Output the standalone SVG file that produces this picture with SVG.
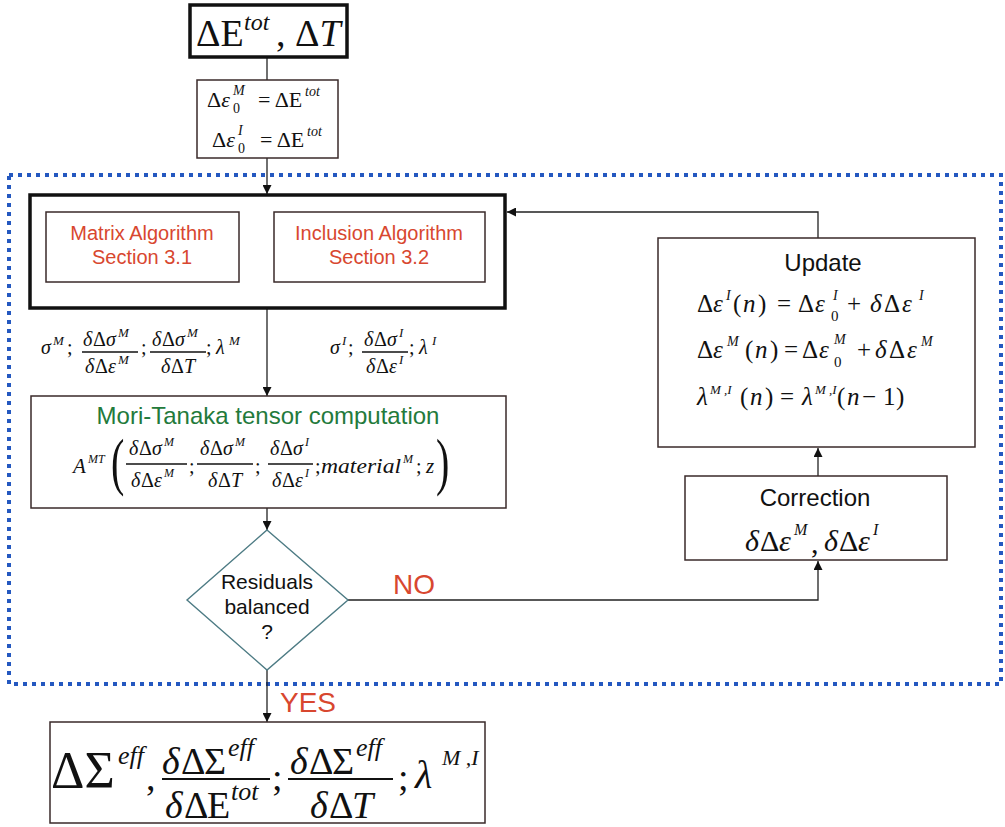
<svg xmlns="http://www.w3.org/2000/svg" width="1005" height="827" viewBox="0 0 1005 827">
<style>
.m{font-family:"Liberation Serif","Times New Roman",serif;fill:#111}
.i{font-style:italic}
.s{font-family:"Liberation Sans",Arial,sans-serif}
.red{fill:#d8472f}
.box{fill:#fff;stroke:#3a2a2a;stroke-width:1.5}
.thick{fill:#fff;stroke:#111;stroke-width:3.5}
.fl{stroke:#111;stroke-width:1.3}
.c{fill:none;stroke:#222;stroke-width:1.3}
</style>
<defs>
<marker id="ah" markerUnits="userSpaceOnUse" markerWidth="9" markerHeight="9" refX="9" refY="4.5" orient="auto">
<path d="M0,0 L9,4.5 L0,9 z" fill="#111"/>
</marker>
</defs>
<rect width="1005" height="827" fill="#fff"/>

<!-- dotted loop region -->
<rect x="9" y="175" width="992" height="509" fill="none" stroke="#2458c0" stroke-width="4" stroke-dasharray="4 5"/>

<g id="connectors">
<line class="c" x1="267" y1="57" x2="267" y2="80"/>
<line class="c" x1="267" y1="158" x2="267" y2="194" marker-end="url(#ah)"/>
<line class="c" x1="267" y1="308" x2="267" y2="396" marker-end="url(#ah)"/>
<line class="c" x1="267" y1="508" x2="267" y2="530" marker-end="url(#ah)"/>
<line class="c" x1="267" y1="670" x2="267" y2="722" marker-end="url(#ah)"/>
<polyline class="c" points="348,600 818,600 818,561" stroke="#6e3a2c" marker-end="url(#ah)"/>
<line class="c" x1="818" y1="476" x2="818" y2="448" marker-end="url(#ah)"/>
<polyline class="c" points="818,238 818,212 507,212" marker-end="url(#ah)"/>
<text class="s red" x="393" y="594" font-size="28">NO</text>
<text class="s red" x="280" y="712" font-size="28">YES</text>
</g>

<g id="input">
<rect x="190" y="5" width="157" height="52" fill="#fff" stroke="#111" stroke-width="3.5"/>
<text class="m" font-size="38" y="46"><tspan x="196">ΔE</tspan><tspan x="244" y="30" font-size="24" font-style="italic">tot</tspan><tspan x="276" y="46">, Δ</tspan><tspan font-style="italic">T</tspan></text>
</g>

<g id="init">
<rect class="box" x="197" y="80" width="141" height="78"/>
<text class="m" font-size="22" y="107"><tspan x="207">Δ</tspan><tspan font-style="italic">ε</tspan></text>
<text class="m i" font-size="14" x="233" y="95">M</text>
<text class="m" font-size="14" x="233" y="113">0</text>
<text class="m" font-size="22" x="258" y="107">= ΔE</text>
<text class="m i" font-size="14" x="305" y="96">tot</text>
<text class="m" font-size="22" y="147"><tspan x="212">Δ</tspan><tspan font-style="italic">ε</tspan></text>
<text class="m i" font-size="14" x="238" y="135">I</text>
<text class="m" font-size="14" x="238" y="153">0</text>
<text class="m" font-size="22" x="260" y="147">= ΔE</text>
<text class="m i" font-size="14" x="307" y="136">tot</text>
</g>

<g id="algorithms">
<rect class="thick" x="30" y="195" width="475" height="113"/>
<g id="matrix">
<rect class="box" x="46" y="212" width="193" height="70"/>
<text class="s red" font-size="20" text-anchor="middle"><tspan x="142" y="240">Matrix Algorithm</tspan><tspan x="142" y="264">Section 3.1</tspan></text>
</g>
<g id="inclusion">
<rect class="box" x="274" y="212" width="211" height="70"/>
<text class="s red" font-size="20" text-anchor="middle"><tspan x="379" y="240">Inclusion Algorithm</tspan><tspan x="379" y="264">Section 3.2</tspan></text>
</g>
</g>

<g id="matrix-outputs">
<text class="m i" font-size="20" x="41" y="354">σ</text>
<text class="m i" font-size="13" x="53" y="345">M</text>
<text class="m" font-size="20" x="67" y="354">;</text>
<text class="m" font-size="20" y="346"><tspan x="83" font-style="italic">δ</tspan><tspan x="93">Δ</tspan><tspan x="106" font-style="italic">σ</tspan></text>
<text class="m i" font-size="13" x="118" y="337">M</text>
<line class="fl" x1="82" y1="352" x2="138" y2="352"/>
<text class="m" font-size="20" y="373"><tspan x="85" font-style="italic">δ</tspan><tspan x="95">Δ</tspan><tspan x="108" font-style="italic">ε</tspan></text>
<text class="m i" font-size="13" x="118" y="364">M</text>
<text class="m" font-size="20" x="141" y="354">;</text>
<text class="m" font-size="20" y="346"><tspan x="152" font-style="italic">δ</tspan><tspan x="162">Δ</tspan><tspan x="175" font-style="italic">σ</tspan></text>
<text class="m i" font-size="13" x="187" y="337">M</text>
<line class="fl" x1="150" y1="352" x2="206" y2="352"/>
<text class="m" font-size="20" y="373"><tspan x="161" font-style="italic">δ</tspan><tspan x="171">Δ</tspan><tspan x="184" font-style="italic">T</tspan></text>
<text class="m" font-size="20" x="206" y="354">;</text>
<text class="m i" font-size="20" x="216" y="354">λ</text>
<text class="m i" font-size="13" x="229" y="345">M</text>
</g>

<g id="inclusion-outputs">
<text class="m i" font-size="20" x="330" y="354">σ</text>
<text class="m i" font-size="13" x="342" y="345">I</text>
<text class="m" font-size="20" x="348" y="354">;</text>
<text class="m" font-size="20" y="346"><tspan x="364" font-style="italic">δ</tspan><tspan x="374">Δ</tspan><tspan x="387" font-style="italic">σ</tspan></text>
<text class="m i" font-size="13" x="399" y="337">I</text>
<line class="fl" x1="362" y1="352" x2="408" y2="352"/>
<text class="m" font-size="20" y="373"><tspan x="366" font-style="italic">δ</tspan><tspan x="376">Δ</tspan><tspan x="389" font-style="italic">ε</tspan></text>
<text class="m i" font-size="13" x="399" y="364">I</text>
<text class="m" font-size="20" x="409" y="354">;</text>
<text class="m i" font-size="20" x="419" y="354">λ</text>
<text class="m i" font-size="13" x="432" y="345">I</text>
</g>

<g id="mori-tanaka">
<rect class="box" x="31" y="396" width="475" height="112"/>
<text class="s" font-size="24" x="268" y="424" text-anchor="middle" fill="#237a3b">Mori-Tanaka tensor computation</text>
<text class="m i" font-size="21" x="73" y="473">A</text>
<text class="m i" font-size="12" x="88" y="463">MT</text>
<text class="m" font-size="40" transform="translate(111,483) scale(1,1.6)">(</text>
<text class="m" font-size="20" y="455"><tspan x="129" font-style="italic">δ</tspan><tspan x="139">Δ</tspan><tspan x="152" font-style="italic">σ</tspan></text>
<text class="m i" font-size="12" x="164" y="446">M</text>
<line class="fl" x1="126" y1="464" x2="187" y2="464"/>
<text class="m" font-size="20" y="487"><tspan x="131" font-style="italic">δ</tspan><tspan x="141">Δ</tspan><tspan x="154" font-style="italic">ε</tspan></text>
<text class="m i" font-size="12" x="164" y="477">M</text>
<text class="m" font-size="20" x="189" y="473">;</text>
<text class="m" font-size="20" y="455"><tspan x="200" font-style="italic">δ</tspan><tspan x="210">Δ</tspan><tspan x="223" font-style="italic">σ</tspan></text>
<text class="m i" font-size="12" x="235" y="446">M</text>
<line class="fl" x1="197" y1="464" x2="253" y2="464"/>
<text class="m" font-size="20" y="487"><tspan x="208" font-style="italic">δ</tspan><tspan x="218">Δ</tspan><tspan x="231" font-style="italic">T</tspan></text>
<text class="m" font-size="20" x="255" y="473">;</text>
<text class="m" font-size="20" y="455"><tspan x="270" font-style="italic">δ</tspan><tspan x="280">Δ</tspan><tspan x="293" font-style="italic">σ</tspan></text>
<text class="m i" font-size="12" x="305" y="446">I</text>
<line class="fl" x1="268" y1="464" x2="313" y2="464"/>
<text class="m" font-size="20" y="487"><tspan x="272" font-style="italic">δ</tspan><tspan x="282">Δ</tspan><tspan x="295" font-style="italic">ε</tspan></text>
<text class="m i" font-size="12" x="305" y="477">I</text>
<text class="m" font-size="20" x="315" y="473">;</text>
<text class="m i" font-size="22" x="321" y="473" textLength="80" lengthAdjust="spacingAndGlyphs">material</text>
<text class="m i" font-size="12" x="403" y="463">M</text>
<text class="m" font-size="20" x="416" y="473">;</text>
<text class="m i" font-size="21" x="426" y="473">z</text>
<text class="m" font-size="40" transform="translate(436,483) scale(1,1.6)">)</text>
</g>

<g id="decision">
<polygon points="267,530 348,600 267,670 187,600" fill="#fff" stroke="#4d7b84" stroke-width="1.4"/>
<text class="s" font-size="21" text-anchor="middle" fill="#111"><tspan x="267" y="589">Residuals</tspan><tspan x="267" y="614">balanced</tspan><tspan x="267" y="639">?</tspan></text>
</g>

<g id="update">
<rect class="box" x="658" y="238" width="317" height="209"/>
<text class="s" font-size="24" x="823" y="271" text-anchor="middle" fill="#111">Update</text>
<!-- line 1 -->
<text class="m" font-size="25" y="312"><tspan x="697">Δ</tspan><tspan x="713" font-style="italic">ε</tspan><tspan x="733">(</tspan><tspan x="743" font-style="italic">n</tspan><tspan x="758">)</tspan><tspan x="777">=</tspan><tspan x="798">Δ</tspan><tspan x="815" font-style="italic">ε</tspan><tspan x="847">+</tspan><tspan x="870" font-style="italic">δ</tspan><tspan x="884">Δ</tspan><tspan x="902" font-style="italic">ε</tspan></text>
<text class="m i" font-size="14" x="726" y="300">I</text>
<text class="m i" font-size="14" x="833" y="300">I</text>
<text class="m" font-size="15" x="831" y="321">0</text>
<text class="m i" font-size="14" x="919" y="300">I</text>
<!-- line 2 -->
<text class="m" font-size="25" y="358"><tspan x="697">Δ</tspan><tspan x="713" font-style="italic">ε</tspan><tspan x="745">(</tspan><tspan x="755" font-style="italic">n</tspan><tspan x="770">)</tspan><tspan x="784">=</tspan><tspan x="802">Δ</tspan><tspan x="819" font-style="italic">ε</tspan><tspan x="857">+</tspan><tspan x="875" font-style="italic">δ</tspan><tspan x="889">Δ</tspan><tspan x="907" font-style="italic">ε</tspan></text>
<text class="m i" font-size="14" x="727" y="346">M</text>
<text class="m i" font-size="14" x="834" y="344">M</text>
<text class="m" font-size="15" x="834" y="367">0</text>
<text class="m i" font-size="14" x="921" y="346">M</text>
<!-- line 3 -->
<text class="m" font-size="25" y="405"><tspan x="697" font-style="italic">λ</tspan><tspan x="740">(</tspan><tspan x="750" font-style="italic">n</tspan><tspan x="765">)</tspan><tspan x="780">=</tspan><tspan x="802" font-style="italic">λ</tspan><tspan x="837">(</tspan><tspan x="847" font-style="italic">n</tspan><tspan x="862">−</tspan><tspan x="883">1</tspan><tspan x="896">)</tspan></text>
<text class="m i" font-size="13" x="710" y="394">M ,I</text>
<text class="m i" font-size="13" x="815" y="394">M ,I</text>
</g>

<g id="correction">
<rect class="box" x="685" y="476" width="262" height="84"/>
<text class="s" font-size="24" x="815" y="506" text-anchor="middle" fill="#111">Correction</text>
<text class="m" font-size="30" y="551"><tspan x="745" font-style="italic">δ</tspan><tspan x="760">Δ</tspan><tspan x="779" font-style="italic">ε</tspan></text>
<text class="m i" font-size="16" x="794" y="535">M</text>
<text class="m" font-size="30" x="811" y="553" fill="#2a3a6a">,</text>
<text class="m" font-size="30" y="551"><tspan x="824" font-style="italic">δ</tspan><tspan x="839">Δ</tspan><tspan x="858" font-style="italic">ε</tspan></text>
<text class="m i" font-size="16" x="873" y="535">I</text>
</g>

<g id="output">
<rect class="box" x="50" y="722" width="435" height="101"/>
<text class="m" font-size="52" x="51" y="788">ΔΣ</text>
<text class="m i" font-size="26" x="118" y="764">eff</text>
<text class="m" font-size="38" x="146" y="790">,</text>
<text class="m" font-size="38" y="774"><tspan x="162" font-style="italic">δ</tspan><tspan x="181">Δ</tspan><tspan x="204">Σ</tspan></text>
<text class="m i" font-size="26" x="228" y="756">eff</text>
<line x1="162" y1="779" x2="270" y2="779" stroke="#111" stroke-width="2"/>
<text class="m" font-size="38" y="818"><tspan x="165" font-style="italic">δ</tspan><tspan x="184">Δ</tspan><tspan x="207">E</tspan></text>
<text class="m i" font-size="26" x="231" y="800">tot</text>
<text class="m" font-size="38" x="272" y="790">;</text>
<text class="m" font-size="38" y="774"><tspan x="290" font-style="italic">δ</tspan><tspan x="309">Δ</tspan><tspan x="332">Σ</tspan></text>
<text class="m i" font-size="26" x="356" y="756">eff</text>
<line x1="288" y1="779" x2="393" y2="779" stroke="#111" stroke-width="2"/>
<text class="m" font-size="38" y="818"><tspan x="310" font-style="italic">δ</tspan><tspan x="329">Δ</tspan><tspan x="352" font-style="italic">T</tspan></text>
<text class="m" font-size="38" x="398" y="790">;</text>
<text class="m i" font-size="40" x="415" y="788">λ</text>
<text class="m i" font-size="22" x="442" y="765">M ,I</text>
</g>
</svg>
